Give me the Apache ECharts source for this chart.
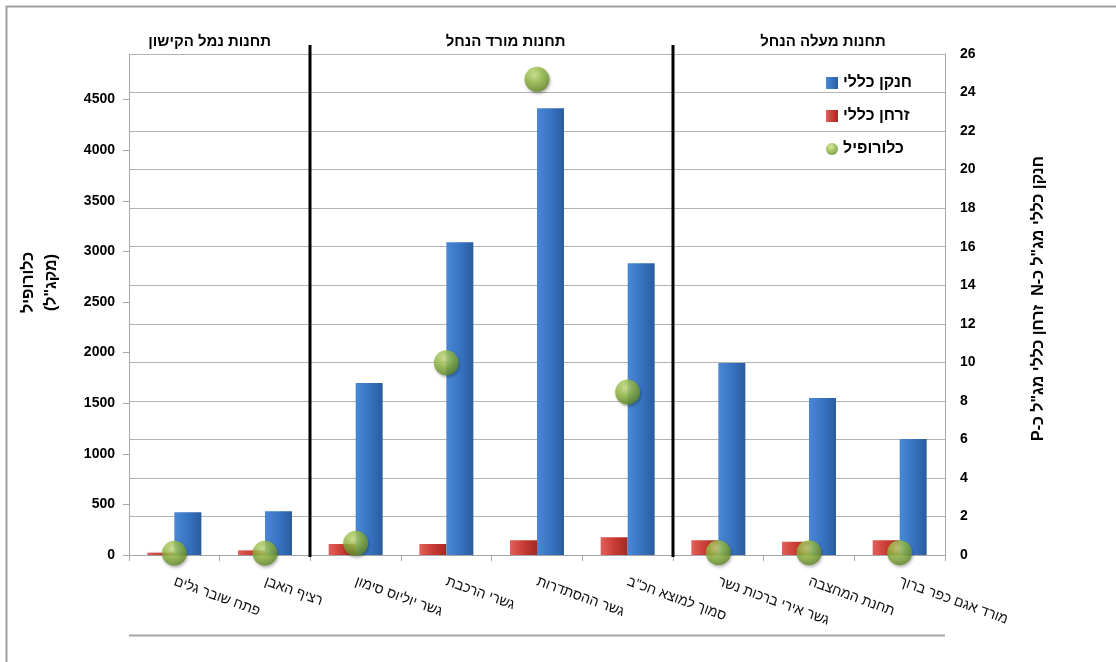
<!DOCTYPE html>
<html>
<head>
<meta charset="utf-8">
<script src="https://cdn.jsdelivr.net/npm/echarts@6/dist/echarts.min.js"></script>
<style>
  html, body { margin: 0; padding: 0; background: #fff; }
  #chart { width: 1116px; height: 662px; direction: rtl; }
</style>
</head>
<body>
<div id="chart"></div>
<script>
// Sampling stations along the stream, downstream to upstream
const stations = [
  'פתח שובר גלים',
  'רציף האבן',
  'גשר יוליוס סימון',
  'גשרי הרכבת',
  'גשר ההסתדרות',
  'סמוך למוצא חכ"ב',
  'גשר אירי ברכות נשר',
  'תחנת המחצבה',
  'מורד אגם כפר ברוך'
];
// Total nitrogen (mg/L as N)
const totalNitrogen = [2.22, 2.27, 8.93, 16.23, 23.18, 15.14, 9.96, 8.15, 6.02];
// Total phosphorus (mg/L as P)
const totalPhosphorus = [0.12, 0.24, 0.57, 0.57, 0.76, 0.92, 0.76, 0.69, 0.76];
// Chlorophyll (µg/L)
const chlorophyll = [17, 17, 115, 1899, 4700, 1610, 23, 23, 23];

// Station groups: [title, first index, last index]
const groups = [
  ['תחנות נמל הקישון', 0, 1],
  ['תחנות מורד הנחל', 2, 5],
  ['תחנות מעלה הנחל', 6, 8]
];

const seriesNames = { n: 'חנקן כללי', p: 'זרחן כללי', chl: 'כלורופיל' };

// Layout
const FONT = '"Liberation Sans", "DejaVu Sans", Arial, sans-serif';
const GRID = { left: 129, right: 171, top: 54, bottom: 107 };
const GROUP_TITLE_SHIFT = [-10, 14, 14];   // horizontal nudge of each group title, px

const chart = echarts.init(document.getElementById('chart'), null, { renderer: 'canvas' });

const option = {
  animation: false,
  backgroundColor: '#ffffff',
  textStyle: { fontFamily: FONT },
  grid: GRID,
  legend: {
    orient: 'vertical',
    left: 821,
    top: 68,
    itemWidth: 12,
    itemHeight: 12,
    itemGap: 13,
    data: [
      { name: seriesNames.n, icon: 'rect' },
      { name: seriesNames.p, icon: 'rect' },
      { name: seriesNames.chl, icon: 'circle' }
    ],
    textStyle: { fontFamily: FONT, fontSize: 16, fontWeight: 'bold', color: '#000', lineHeight: 20 }
  },
  xAxis: {
    type: 'category',
    data: stations,
    axisLine: { show: true, lineStyle: { color: '#a6a6a6', width: 1 } },
    axisTick: { show: true, length: 6, lineStyle: { color: '#a6a6a6' } },
    axisLabel: {
      interval: 0,
      rotate: -20,
      margin: 26,
      fontFamily: FONT,
      fontSize: 14,
      color: '#111'
    }
  },
  yAxis: [
    {
      type: 'value',
      min: 0,
      max: 4950,
      interval: 500,
      position: 'left',
      name: 'כלורופיל\n(מקג"ל)',
      nameLocation: 'middle',
      nameRotate: 90,
      nameGap: 66,
      nameTextStyle: {
        fontFamily: FONT, fontSize: 16, fontWeight: 'bold', color: '#000',
        lineHeight: 23, padding: [0, 0, 0, 44]
      },
      axisLine: { show: true, lineStyle: { color: '#a6a6a6' } },
      axisTick: { show: true, length: 6, lineStyle: { color: '#a6a6a6' } },
      axisLabel: {
        showMaxLabel: false,
        margin: 14,
        formatter: function (v) { return String(v); },
        fontFamily: FONT, fontSize: 14, fontWeight: 'bold', color: '#000'
      },
      splitLine: { show: false }
    },
    {
      type: 'value',
      min: 0,
      max: 26,
      interval: 2,
      position: 'right',
      name: 'חנקן כללי מג"ל כ-N  זרחן כללי מג"ל כ-P',
      nameLocation: 'middle',
      nameRotate: 90,
      nameGap: 86,
      nameTextStyle: {
        fontFamily: FONT, fontSize: 16, fontWeight: 'bold', color: '#000',
        padding: [0, 0, 0, 12]
      },
      axisLine: { show: true, lineStyle: { color: '#a6a6a6' } },
      axisTick: { show: false },
      axisLabel: {
        margin: 15,
        fontFamily: FONT, fontSize: 14, fontWeight: 'bold', color: '#000'
      },
      splitLine: { show: true, lineStyle: { color: '#b3b3b3', width: 1 } }
    }
  ],
  series: [
    {
      name: seriesNames.p,
      type: 'bar',
      yAxisIndex: 1,
      data: totalPhosphorus,
      barWidth: 27,
      barGap: '0%',
      itemStyle: {
        color: new echarts.graphic.LinearGradient(0, 0, 1, 0, [
          { offset: 0, color: '#e2605c' },
          { offset: 0.5, color: '#c93c34' },
          { offset: 1, color: '#a02b24' }
        ]),
        shadowColor: 'rgba(0,0,0,0.25)',
        shadowBlur: 2,
        shadowOffsetX: 1
      }
    },
    {
      name: seriesNames.n,
      type: 'bar',
      yAxisIndex: 1,
      data: totalNitrogen,
      barWidth: 27,
      barGap: '0%',
      itemStyle: {
        color: new echarts.graphic.LinearGradient(0, 0, 1, 0, [
          { offset: 0, color: '#4a88d6' },
          { offset: 0.5, color: '#3874c2' },
          { offset: 1, color: '#2a5c9e' }
        ]),
        shadowColor: 'rgba(0,0,0,0.25)',
        shadowBlur: 2,
        shadowOffsetX: 1
      }
    },
    {
      name: seriesNames.chl,
      type: 'scatter',
      yAxisIndex: 0,
      data: chlorophyll,
      symbol: 'circle',
      symbolSize: 25,
      z: 5,
      itemStyle: {
        color: new echarts.graphic.RadialGradient(0.4, 0.32, 0.72, [
          { offset: 0, color: '#cfe68a' },
          { offset: 0.45, color: '#96bd44' },
          { offset: 1, color: '#5e8424' }
        ]),
        shadowColor: 'rgba(0,0,0,0.35)',
        shadowBlur: 3,
        shadowOffsetX: 1,
        shadowOffsetY: 2
      }
    }
  ]
};

chart.setOption(option);

// Group separators, group titles, the lower rule and the outer frame,
// placed from the category axis scale.
function catX(i) { return chart.convertToPixel({ xAxisIndex: 0 }, i); }
function boundary(i) { return (catX(i) + catX(i + 1)) / 2; }

const step = catX(1) - catX(0);
const gLeft = catX(0) - step / 2;
const gRight = catX(stations.length - 1) + step / 2;
const axisY = chart.convertToPixel({ yAxisIndex: 1 }, 0);

const graphics = [];
groups.forEach(function (g, k) {
  const cx = (catX(g[1]) + catX(g[2])) / 2 + GROUP_TITLE_SHIFT[k];
  graphics.push({
    type: 'text',
    x: cx,
    y: 42,
    style: {
      text: g[0],
      fill: '#000',
      font: 'bold 15px ' + FONT,
      align: 'center',
      verticalAlign: 'middle'
    }
  });
  if (k < groups.length - 1) {
    const bx = Math.round(boundary(g[2]));
    graphics.push({
      type: 'line',
      shape: { x1: bx, y1: 45, x2: bx, y2: axisY + 2 },
      style: { stroke: '#000', lineWidth: 3 },
      z: 10
    });
  }
});
graphics.push({
  type: 'line',
  shape: { x1: gLeft, y1: 635.5, x2: gRight, y2: 635.5 },
  style: { stroke: '#a6a6a6', lineWidth: 2 }
});
graphics.push({
  type: 'rect',
  shape: { x: 6.5, y: 6.5, width: 1130, height: 680 },
  style: { fill: null, stroke: '#a0a0a0', lineWidth: 2 }
});

chart.setOption({ graphic: graphics });
</script>
</body>
</html>
